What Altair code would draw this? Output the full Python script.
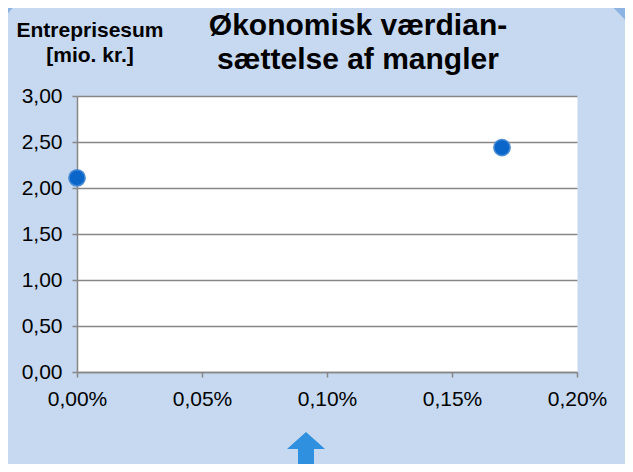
import altair as alt
import pandas as pd

# ---- data ----
share_of_sum = [0.0, 0.0017]          # x: fraction (0,00% .. 0,20%)
contract_sum = [2.11, 2.44]           # y: mio. kr.
x_tick_values = [0.0, 0.0005, 0.001, 0.0015, 0.002]
y_tick_values = [0.0, 0.5, 1.0, 1.5, 2.0, 2.5, 3.0]
title_lines = ["Økonomisk værdian-", "sættelse af mangler"]
ytitle_lines = ["Entreprisesum", "[mio. kr.]"]

FONT = "Liberation Sans"
GRID = "#878787"
BG = "#c6d9f0"

df = pd.DataFrame({"share": share_of_sum, "sum": contract_sum})
one = alt.Data(values=[{"k": 1}])

points = alt.Chart(df).mark_point(
    filled=True, size=265, fill="#0a67c9", stroke="#4a8bd6",
    strokeWidth=1.5, opacity=1
).encode(
    x=alt.X("share:Q",
            scale=alt.Scale(domain=[0, 0.002], nice=False, zero=True),
            axis=alt.Axis(values=x_tick_values, title=None, grid=False,
                          labelExpr="replace(format(datum.value, '.2%'), '.', ',')",
                          labelFlush=False, labelOverlap=False, labelPadding=11)),
    y=alt.Y("sum:Q",
            scale=alt.Scale(domain=[0, 3], nice=False),
            axis=alt.Axis(values=y_tick_values, title=None, grid=True,
                          labelExpr="replace(format(datum.value, '.2f'), '.', ',')",
                          labelOverlap=False, labelPadding=10)),
)

arrow = alt.Chart(one).mark_point(
    shape="M0,-1 L0.95,-0.15 L0.4,-0.15 L0.4,1.2 L-0.4,1.2 L-0.4,-0.15 L-0.95,-0.15 Z",
    filled=True, fill="#3090e0", size=1600, opacity=1, strokeWidth=0
).encode(x=alt.value(229), y=alt.value(356))

corner_tr = alt.Chart(one).mark_point(
    shape="M-0.9,0 L0.3,-0.3 L0.3,0.933 L0,0.933 Z",
    filled=True, fill="#8db3e2", size=3600, opacity=1, strokeWidth=0
).encode(x=alt.value(556), y=alt.value(-96))

corner_tl = alt.Chart(one).mark_point(
    shape="M-0.3,-0.3 L0.8,0 L0,0.88 Z",
    filled=True, fill="#8db3e2", size=2500, opacity=1, strokeWidth=0
).encode(x=alt.value(-77), y=alt.value(-96))

title = alt.Chart(one).mark_text(
    font=FONT, fontSize=30, fontWeight="bold", color="black",
    align="center", baseline="alphabetic", lineHeight=33.5
).encode(x=alt.value(281), y=alt.value(-61), text=alt.value(title_lines))

ytitle = alt.Chart(one).mark_text(
    font=FONT, fontSize=21, fontWeight="bold", color="black",
    align="center", baseline="alphabetic", lineHeight=25
).encode(x=alt.value(13), y=alt.value(-58.7), text=alt.value(ytitle_lines))

chart = alt.layer(corner_tl, corner_tr, points, arrow, title, ytitle).properties(
    width=500, height=276,
    padding={"left": 69, "top": 88, "right": 48, "bottom": 92},
    autosize=alt.AutoSizeParams(type="none"),
    background=BG,
).configure_view(
    fill="white", stroke="transparent"
).configure_axis(
    labelFont=FONT, labelFontSize=21, labelColor="black",
    domainColor=GRID, domainWidth=1.5,
    tickColor=GRID, tickWidth=1.5, tickSize=5,
    gridColor=GRID, gridWidth=1.5,
)

chart.save("out.html", embed_options={"renderer": "svg", "actions": False})
